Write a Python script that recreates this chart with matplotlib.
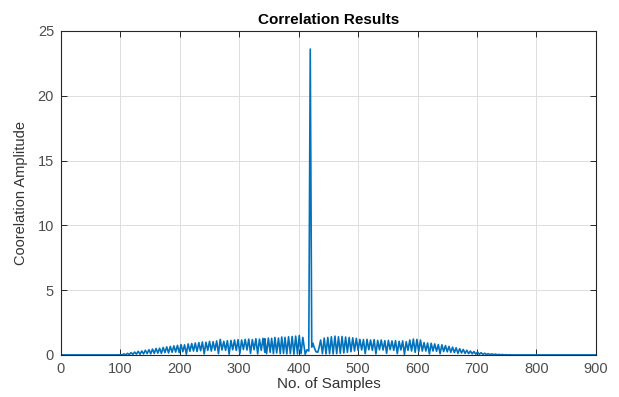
#!/usr/bin/env python3
"""
Correlation results plot (MATLAB style)
"""

import numpy as np
import matplotlib
matplotlib.use("Agg")
import matplotlib.pyplot as plt

plt.rcParams['font.family'] = ['Liberation Sans', 'DejaVu Sans']

# flat part before the signal starts
head_x = [0, 100]
head_y = [0.0, 0.0]

# dense band on the left, one value every 3 samples (high, low, high, low ...)
left_start = 100
left_step = 3
left_y = [
    0.02, 0.00, 0.08, 0.01, 0.12, 0.03, 0.18, 0.04, 0.22, 0.06,
    0.28, 0.05, 0.30, 0.08, 0.36, 0.10, 0.40, 0.09, 0.45, 0.12,
    0.50, 0.14, 0.52, 0.12, 0.58, 0.18, 0.62, 0.15, 0.66, 0.20,
    0.70, 0.22, 0.74, 0.18, 0.80, 0.25, 0.78, 0.05, 0.85, 0.28,
    0.88, 0.30, 0.92, 0.26, 0.95, 0.32, 1.00, 0.08, 0.98, 0.35,
    1.05, 0.30, 1.02, 0.36, 1.08, 0.10, 1.20, 0.38, 1.05, 0.35,
    1.10, 0.06, 1.12, 0.40, 1.15, 0.35, 1.18, 0.10, 1.15, 0.42,
    1.20, 0.38, 1.22, 0.12, 1.18, 0.40, 1.25, 0.08, 1.22, 0.35,
    1.28, 0.20,
]

# side lobes and the main correlation peak (extrema)
lobe_x = [
    343, 346, 349, 352, 354.5, 357.5, 360, 363, 366, 369,
    371.5, 374.5, 377, 380, 383, 386, 389, 392, 395, 398,
    401, 404, 407, 411, 414, 417, 419.5, 422, 424, 426,
    429, 432, 434, 437, 440, 443, 446, 449, 452, 455,
    458, 461, 464, 467, 470, 473, 476, 479, 482, 485,
    488, 491, 494, 497, 500,
]
lobe_y = [
    1.25, 0.10, 1.30, 0.20, 1.28, 0.10, 1.35, 0.15, 1.30, 0.10,
    1.38, 0.12, 1.35, 0.08, 1.40, 0.10, 1.42, 0.06, 1.45, 0.08,
    1.50, 0.10, 1.35, 0.05, 0.40, 0.30, 23.6, 0.60, 0.90, 0.60,
    0.25, 0.20, 0.50, 1.15, 0.10, 1.30, 0.08, 1.35, 0.10, 1.40,
    0.08, 1.45, 0.10, 1.40, 0.12, 1.42, 0.15, 1.38, 0.20, 1.35,
    0.25, 1.32, 0.30, 1.28, 0.35,
]

# dense band on the right, one value every 3 samples
right_start = 503
right_step = 3
right_y = [
    1.20, 0.38, 1.18, 0.10, 1.20, 0.40, 1.15, 0.35, 1.18, 0.08,
    1.12, 0.40, 1.15, 0.38, 1.10, 0.12, 1.12, 0.40, 1.08, 0.35,
    1.10, 0.10, 1.05, 0.38, 1.08, 0.05, 1.02, 0.35, 1.15, 0.30,
    1.22, 0.20, 1.20, 0.25, 1.15, 0.30, 0.95, 0.30, 0.92, 0.08,
    0.90, 0.30, 0.85, 0.28, 0.80, 0.10, 0.78, 0.26, 0.72, 0.24,
    0.66, 0.20, 0.60, 0.18, 0.55, 0.12, 0.48, 0.15, 0.42, 0.12,
    0.36, 0.10, 0.30, 0.08, 0.26, 0.06, 0.22, 0.05, 0.17, 0.04,
    0.13, 0.03, 0.10, 0.02, 0.08, 0.02, 0.06, 0.01, 0.04, 0.01,
    0.03, 0.00, 0.02, 0.00, 0.01, 0.00,
]

# flat part after the signal dies out
tail_x = [770, 900]
tail_y = [0.0, 0.0]

x_ticks = [0, 100, 200, 300, 400, 500, 600, 700, 800, 900]
y_ticks = [0, 5, 10, 15, 20, 25]

left_x = left_start + left_step * np.arange(len(left_y))
right_x = right_start + right_step * np.arange(len(right_y))

samples = np.concatenate([head_x, left_x, lobe_x, right_x, tail_x])
amplitude = np.concatenate([head_y, left_y, lobe_y, right_y, tail_y])

fig = plt.figure(figsize=(6.19, 3.97), dpi=100)
ax = fig.add_axes([0.0985, 0.106, 0.864, 0.816])

ax.plot(samples, amplitude, color='#0072BD', linewidth=1.2)

ax.set_xlim(0, 900)
ax.set_ylim(0, 25)
ax.set_xticks(x_ticks)
ax.set_yticks(y_ticks)

ax.grid(True, color='#dedede', linewidth=0.7)
ax.set_axisbelow(True)
ax.tick_params(direction='in', top=True, right=True, length=4, pad=5,
               labelsize=10.5, colors='#262626', labelcolor='#4d4d4d', width=0.7)
for spine in ax.spines.values():
    spine.set_color('#262626')
    spine.set_linewidth(0.8)

ax.set_title('Correlation Results', fontsize=11, fontweight='bold', pad=5)
ax.set_xlabel('No. of Samples', fontsize=11, color='#333333', labelpad=1)
ax.set_ylabel('Coorelation Amplitude', fontsize=10.5, color='#333333', labelpad=7)

fig.savefig('out.png', dpi=100)
